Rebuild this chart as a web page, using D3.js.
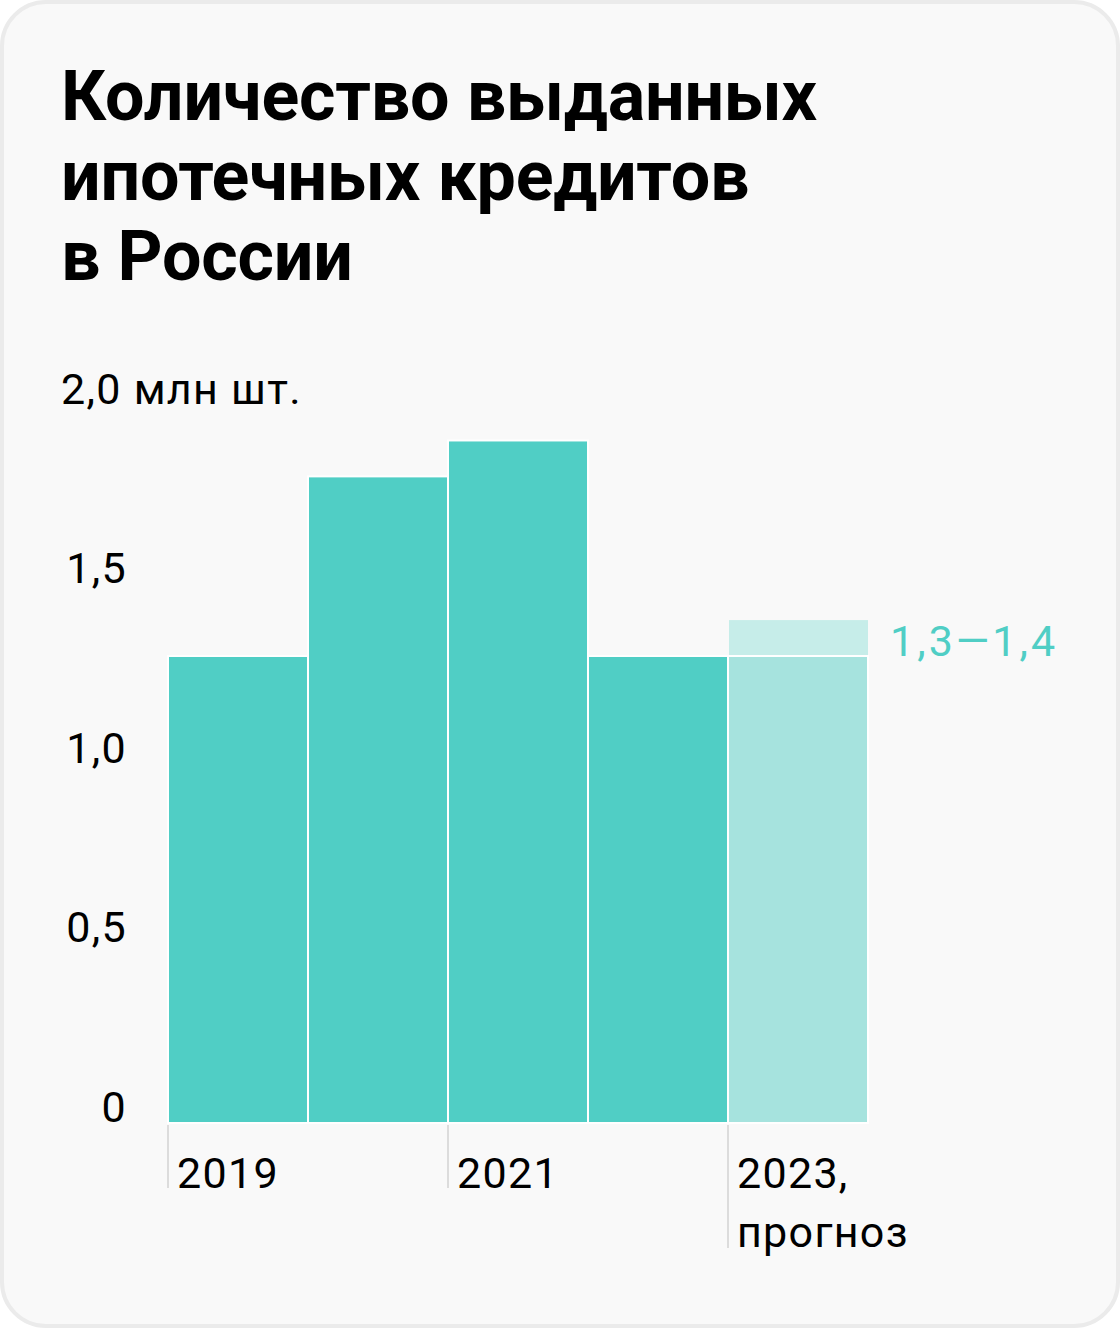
<!DOCTYPE html>
<html>
<head>
<meta charset="utf-8">
<script src="https://cdn.jsdelivr.net/npm/d3@7"></script>
<style>
  body { margin: 0; background: #ffffff; }
  svg { display: block; font-family: Roboto, "Noto Sans", sans-serif; }
</style>
</head>
<body>
<div id="chart"></div>
<script>
// data
let years = ["2019", "2020", "2021", "2022", "2023"];
let values = [1.3, 1.8, 1.9, 1.3, 1.3];
let forecastTop = 1.4;
let yTicks = [0, 0.5, 1.0, 1.5, 2.0];
let yTickLabels = ["0", "0,5", "1,0", "1,5", "2,0"];
let yUnit = " млн шт.";
let xLabels = {"2019": ["2019"], "2021": ["2021"], "2023": ["2023,", "прогноз"]};
let titleLines = ["Количество выданных", "ипотечных кредитов", "в России"];

let width = 1120, height = 1328;
let fs = 43, ls = 1.3;

let svg = d3.select("#chart").append("svg")
    .attr("width", width)
    .attr("height", height);

// card
svg.append("rect")
    .attr("x", 2).attr("y", 2)
    .attr("width", width - 4).attr("height", height - 4)
    .attr("rx", 44)
    .attr("fill", "#f9f9f9")
    .attr("stroke", "#ebebeb")
    .attr("stroke-width", 4);

// title
svg.append("g").selectAll("text")
    .data(titleLines)
    .enter().append("text")
    .attr("x", 61)
    .attr("y", (d, i) => 120 + i * 80)
    .attr("font-size", 70)
    .attr("font-weight", 700)
    .attr("letter-spacing", -0.2)
    .attr("fill", "#000")
    .text(d => d);

let y = d3.scaleLinear().domain([0, 1.3]).range([1123, 656]);
let x = d3.scaleBand().domain(years).range([168, 868]).padding(0);

// y labels (numbers right aligned, unit after the top one)
let yl = svg.append("g").selectAll("text")
    .data(yTicks)
    .enter().append("text")
    .attr("y", d => y(d) - 1)
    .attr("font-size", fs)
    .attr("letter-spacing", ls)
    .attr("fill", "#000");
yl.filter(d => d !== 2.0)
    .attr("x", 127)
    .attr("text-anchor", "end")
    .text(d => yTickLabels[yTicks.indexOf(d)]);
yl.filter(d => d === 2.0)
    .attr("x", 61)
    .text(d => yTickLabels[yTicks.indexOf(d)] + yUnit);

// bars
let bars = svg.append("g");
bars.selectAll("rect.bar")
    .data(years)
    .enter().append("rect")
    .attr("class", "bar")
    .attr("x", d => x(d))
    .attr("y", (d, i) => y(values[i]))
    .attr("width", x.bandwidth())
    .attr("height", (d, i) => y(0) - y(values[i]))
    .attr("fill", (d, i) => i === 4 ? "#a6e3de" : "#50cec5")
    .attr("stroke", "#ffffff")
    .attr("stroke-width", 2);

// forecast range
bars.append("rect")
    .attr("x", x("2023") + 1)
    .attr("y", y(forecastTop))
    .attr("width", x.bandwidth() - 1)
    .attr("height", y(values[4]) - y(forecastTop) - 1)
    .attr("fill", "#c6ede9");

svg.append("text")
    .attr("x", 890)
    .attr("y", 656)
    .attr("font-size", fs)
    .attr("letter-spacing", 3)
    .attr("fill", "#50cec5")
    .text("1,3—1,4");

// x ticks and labels
let xg = svg.append("g");
Object.keys(xLabels).forEach(function(yr) {
    let lines = xLabels[yr];
    let x0 = x(yr);
    xg.append("line")
        .attr("x1", x0).attr("x2", x0)
        .attr("y1", 1125)
        .attr("y2", 1188 + (lines.length - 1) * 60)
        .attr("stroke", "#dcdcdc")
        .attr("stroke-width", 2);
    lines.forEach(function(t, j) {
        xg.append("text")
            .attr("x", x0 + 9)
            .attr("y", 1188 + j * 59)
            .attr("font-size", fs)
            .attr("letter-spacing", ls)
            .attr("fill", "#000")
            .text(t);
    });
});
</script>
</body>
</html>
